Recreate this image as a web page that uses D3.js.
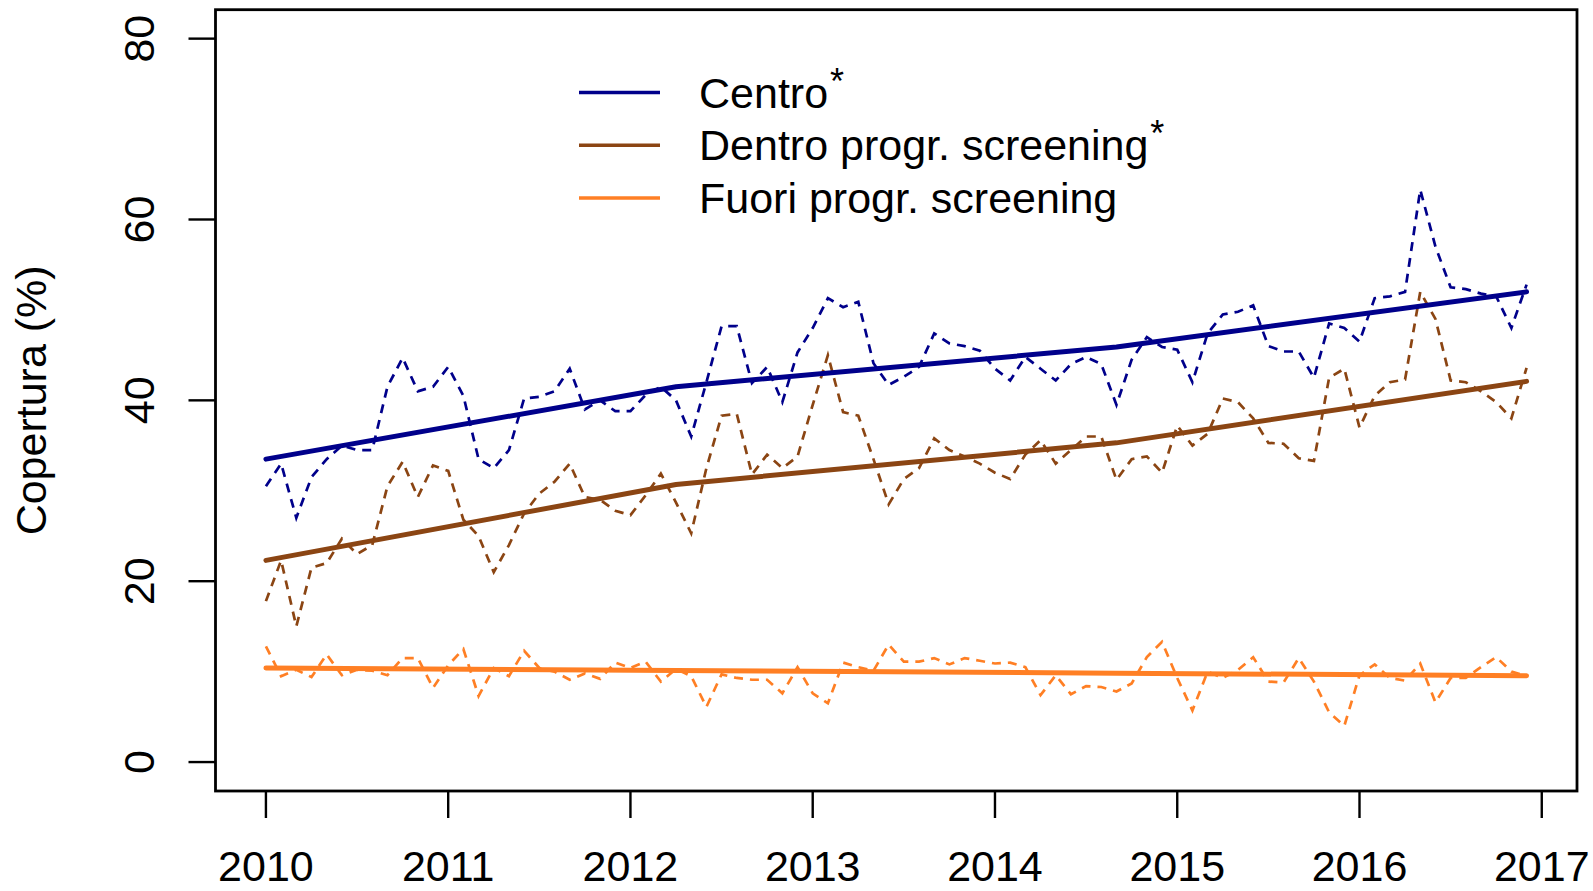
<!DOCTYPE html>
<html>
<head>
<meta charset="utf-8">
<script src="https://cdn.jsdelivr.net/npm/d3@7"></script>
<style>
  body { margin: 0; background: #fff; }
  text { font-family: "Liberation Sans", Arial, sans-serif; fill: #000; }
</style>
</head>
<body>
<div id="chart"></div>
<script>
// monthly coverage (%), Jan 2010 .. Dec 2016 (84 months)
const startYear = 2010;
const centro = [30.5,33,27,31.5,33.5,35,34.5,34.5,41.5,44.7,41,41.5,
  43.7,40.5,33.5,32.5,34.5,40.2,40.4,41,43.5,39,40,38.8,
  38.8,40.6,41.5,40,36,42,48.2,48.2,41.9,43.7,39.8,45.3,
  48,51.3,50.3,50.9,44.1,41.7,42.6,43.7,47.4,46.3,46,45.5,
  43.5,42.2,44.8,43.5,42.2,44,44.8,44,39.5,44.5,47,45.9,
  45.6,42,47.4,49.5,49.8,50.5,46,45.4,45.4,42.5,48.5,48,
  46.5,51.3,51.5,52,63.3,57,52.5,52.3,51.8,51.5,48,52.8];
const dentro = [17.8,22.3,15,21.5,22,24.7,23,24,30.5,33.2,29.3,32.8,
  32.2,26.8,25,21,24,27.5,29.7,31,33,29.3,29,27.8,
  27.3,29.5,31.9,28.7,25.3,32.5,38.3,38.5,31.8,34,32.5,33.8,
  39.5,45,38.7,38.3,33.5,28.5,31.3,32.5,35.8,34.5,33.8,33,
  32,31.3,34,35.6,33,34.5,36,36,31.2,33.5,33.8,32,
  37.2,35,36.3,40.2,39.8,38,35.3,35.2,33.6,33.3,42.5,43.5,
  37,40.5,42,42.3,52,49,42.2,42,41,39.8,38,43.6];
const fuori = [12.8,9.5,10.2,9.4,11.9,9.6,10.2,10.1,9.6,11.5,11.5,8.2,
  10.7,12.5,7.3,10.4,9.5,12.3,10.4,10,9.1,9.8,9.2,11,
  10.4,11.1,8.9,10.3,9.5,6.1,9.7,9.3,9.1,9.1,7.6,10.5,
  7.6,6.5,11,10.5,10.1,13,11.1,11.1,11.5,10.8,11.5,11.2,
  10.9,11,10.5,7.4,9.6,7.5,8.4,8.3,7.8,8.7,11.6,13.3,
  9.3,5.7,10,9.3,10.2,11.6,8.9,8.8,11.5,8.9,5.5,4,
  9.6,10.8,9.3,9,10.9,6.6,9.3,9.3,10.5,11.6,10,9.5];

// fitted trends (knots at month index)
const trendMonths = [0, 27, 56, 83];
const centroTrend = [33.5, 41.5, 45.9, 52.0];
const dentroTrend = [22.3, 30.7, 35.3, 42.1];
const fuoriTrend = [10.4, 10.12, 9.83, 9.55];

const yearTicks = [2010, 2011, 2012, 2013, 2014, 2015, 2016, 2017];
const yTicks = [0, 20, 40, 60, 80];
const legendLabels = ["Centro", "Dentro progr. screening", "Fuori progr. screening"];
const legendStars = [true, true, false];
const colors = ["#00008B", "#8B4513", "#FF7F24"];

const W = 1593, H = 891;
const fs = 43;

// R style axis padding (4% each side)
const xMin = startYear, xMax = startYear + (centro.length - 1) / 12;
const xPad = (xMax - xMin) * 0.04;
const x = d3.scaleLinear().domain([xMin - xPad, xMax + xPad]).range([215.5, 1577]);
const y = d3.scaleLinear().domain([-3.2, 83.2]).range([791, 9.7]);

const svg = d3.select("#chart").append("svg")
    .attr("width", W).attr("height", H);

const toPts = arr => arr.map((v, i) => ({t: startYear + i / 12, v: v}));
const line = d3.line().x(d => x(d.t)).y(d => y(d.v));
const trendPts = arr => arr.map((v, i) => ({t: startYear + trendMonths[i] / 12, v: v}));

const series = [
  {raw: centro, trend: centroTrend},
  {raw: dentro, trend: dentroTrend},
  {raw: fuori, trend: fuoriTrend}
];

// dashed monthly lines
series.forEach((s, i) => {
  svg.append("path")
    .attr("d", line(toPts(s.raw)))
    .attr("fill", "none")
    .attr("stroke", colors[i])
    .attr("stroke-width", 2.7)
    .attr("stroke-dasharray", "9,7");
});
// solid trends on top
series.forEach((s, i) => {
  svg.append("path")
    .attr("d", line(trendPts(s.trend)))
    .attr("fill", "none")
    .attr("stroke", colors[i])
    .attr("stroke-width", 5)
    .attr("stroke-linecap", "round")
    .attr("stroke-linejoin", "round");
});

// box
svg.append("rect")
  .attr("x", x.range()[0]).attr("y", y.range()[1])
  .attr("width", x.range()[1] - x.range()[0])
  .attr("height", y.range()[0] - y.range()[1])
  .attr("fill", "none").attr("stroke", "#000").attr("stroke-width", 2.8);

// x axis
const xAxis = svg.append("g").attr("transform", `translate(0,${y.range()[0]})`);
xAxis.selectAll("line").data(yearTicks).enter().append("line")
  .attr("x1", d => x(d)).attr("x2", d => x(d))
  .attr("y1", 0).attr("y2", 27)
  .attr("stroke", "#000").attr("stroke-width", 2.4);
xAxis.selectAll("text").data(yearTicks).enter().append("text")
  .attr("x", d => x(d)).attr("y", 90)
  .attr("text-anchor", "middle")
  .style("font-size", fs + "px")
  .text(d => d);

// y axis
const yAxis = svg.append("g").attr("transform", `translate(${x.range()[0]},0)`);
yAxis.selectAll("line").data(yTicks).enter().append("line")
  .attr("x1", 0).attr("x2", -27)
  .attr("y1", d => y(d)).attr("y2", d => y(d))
  .attr("stroke", "#000").attr("stroke-width", 2.4);
yAxis.selectAll("text").data(yTicks).enter().append("text")
  .attr("transform", d => `translate(-62,${y(d)}) rotate(-90)`)
  .attr("text-anchor", "middle")
  .style("font-size", fs + "px")
  .text(d => d);

// y label
svg.append("text")
  .attr("transform", `translate(46,${(y.range()[0] + y.range()[1]) / 2}) rotate(-90)`)
  .attr("text-anchor", "middle")
  .style("font-size", fs + "px")
  .text("Copertura (%)");

// legend
const legendRows = [92.5, 145.3, 198];
const lg = svg.append("g");
legendLabels.forEach((lab, i) => {
  lg.append("line")
    .attr("x1", 579).attr("x2", 660)
    .attr("y1", legendRows[i]).attr("y2", legendRows[i])
    .attr("stroke", colors[i]).attr("stroke-width", 3.5);
  let t = lg.append("text")
    .attr("x", 699).attr("y", legendRows[i] + 15)
    .style("font-size", fs + "px")
    .text(lab);
  if (legendStars[i]) {
    t.append("tspan").attr("dx", 2).attr("dy", -14).style("font-size", "36px").text("*");
  }
});
</script>
</body>
</html>
